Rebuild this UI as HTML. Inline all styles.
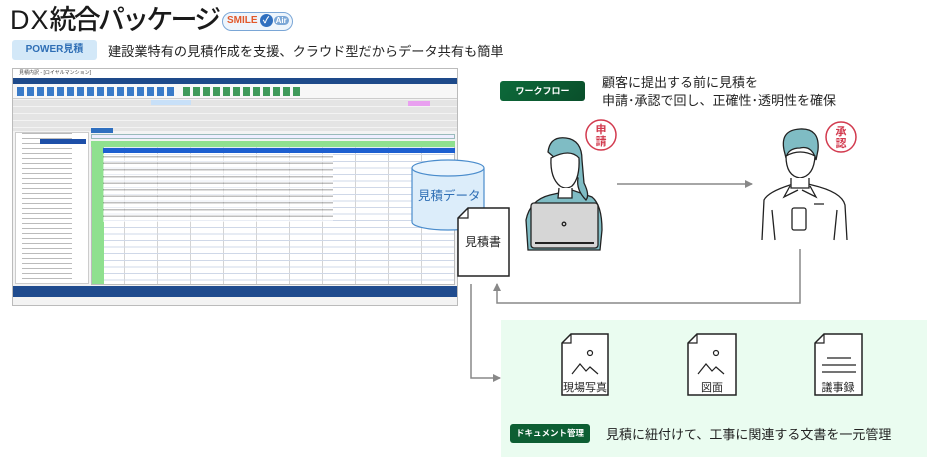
<!DOCTYPE html>
<html><head><meta charset="utf-8">
<style>
*{margin:0;padding:0;box-sizing:border-box}
body{width:940px;height:467px;background:#fff;position:relative;overflow:hidden;font-family:"Liberation Sans","Noto Sans CJK JP",sans-serif;color:#222}
.a{position:absolute;white-space:nowrap}
</style></head><body>
<div class="a" style="left:10px;top:3px;font-size:27px;font-weight:500;line-height:34px;color:#1a1a1a"><span style="letter-spacing:1px">DX</span><span style="letter-spacing:-2.8px">統合パッケージ</span></div>
<div class="a" style="left:222px;top:12px;width:71px;height:19px;border:1.5px solid #7aa6d6;border-radius:10px;background:#eef5fc;font-size:10px;font-weight:bold;line-height:16px;padding-left:4px;color:#e2582a">SMILE<span style="display:inline-block;width:13px;height:13px;border-radius:7px;background:#2f6fbf;color:#fff;font-size:9px;text-align:center;line-height:13px;margin-left:2px">✓</span><span style="color:#fff;background:#7aa6d6;border-radius:5px;font-size:8px;padding:0 2px;margin-left:1px">Air</span></div>
<div class="a" style="left:12px;top:40px;width:85px;height:20px;background:#d3e8f8;border-radius:3px;font-size:10px;font-weight:bold;color:#2e6eb5;text-align:center;line-height:20px">POWER見積</div>
<div class="a" style="left:108px;top:43px;font-size:13.2px;line-height:18px;color:#222">建設業特有の見積作成を支援、クラウド型だからデータ共有も簡単</div>

<div class="a" style="left:12px;top:68px;width:446px;height:238px;border:1px solid #bbb;background:#f3f3f3">
 <div class="a" style="left:0;top:0;width:444px;height:9px;background:#fff;font-size:5px;color:#444;padding-left:6px">見積内訳 - [ロイヤルマンション]</div>
 <div class="a" style="left:0;top:9px;width:444px;height:6px;background:#1e4a8a"></div>
 <div class="a" style="left:0;top:15px;width:444px;height:15px;background:#f7f7f7;border-bottom:1px solid #ccc">
  <div class="a" style="left:4px;top:3px;width:160px;height:9px;background:repeating-linear-gradient(90deg,#3a7bc8 0 7px,transparent 7px 10px)"></div>
  <div class="a" style="left:170px;top:3px;width:120px;height:9px;background:repeating-linear-gradient(90deg,#3f9a5a 0 7px,transparent 7px 10px)"></div>
 </div>
 <div class="a" style="left:0;top:31px;width:444px;height:31px;background:repeating-linear-gradient(180deg,#e4e4e4 0 6px,#f3f3f3 6px 7px)"></div>
 <div class="a" style="left:138px;top:31px;width:40px;height:5px;background:#c8e0f8"></div>
 <div class="a" style="left:395px;top:32px;width:22px;height:5px;background:#e9a0f0"></div>
 <div class="a" style="left:2px;top:63px;width:74px;height:152px;background:#fff;border:1px solid #ccc;background-image:repeating-linear-gradient(180deg,transparent 0 3px,#bbb 3px 4px,transparent 4px 5px);background-size:50px 5px;background-repeat:repeat-y;background-position:6px 2px"></div>
 <div class="a" style="left:27px;top:70px;width:46px;height:5px;background:#1d4fa8"></div>
 <div class="a" style="left:78px;top:59px;width:22px;height:5px;background:#2f6fbf"></div>
 <div class="a" style="left:78px;top:65px;width:364px;height:5px;border:1px solid #9bb;background:#eef"></div>
 <div class="a" style="left:78px;top:72px;width:364px;height:144px;background:#fff;border:1px solid #bbb;background-image:linear-gradient(90deg,#8fe08f 0 12px,transparent 12px),repeating-linear-gradient(180deg,transparent 0 5.6px,#cfd8e8 5.6px 6.6px),repeating-linear-gradient(90deg,transparent 0 32px,#d4d4d4 32px 33px)"></div>
 <div class="a" style="left:78px;top:72px;width:364px;height:6px;background:#8fe08f"></div>
 <div class="a" style="left:90px;top:79px;width:352px;height:5px;background:#1d5fd0"></div>
 <div class="a" style="left:90px;top:85px;width:230px;height:68px;background:repeating-linear-gradient(180deg,#fff 0 2px,#8a8a8a 2px 3.5px,#fff 3.5px 6.6px);opacity:.55"></div>
 <div class="a" style="left:0;top:217px;width:444px;height:11px;background:#1f4b8e"></div>
</div>

<svg class="a" style="left:0;top:0" width="940" height="467">
 <defs><marker id="ar" markerWidth="8" markerHeight="8" refX="7" refY="4" orient="auto" markerUnits="userSpaceOnUse"><path d="M0,0 L8,4 L0,8z" fill="#888"/></marker></defs>
 <path d="M412,168 L412,222 A36,8 0 0 0 484,222 L484,168" fill="#dcedfa" stroke="#4a8ccc" stroke-width="1.2"/>
 <ellipse cx="448" cy="168" rx="36" ry="8" fill="#e9f4fd" stroke="#4a8ccc" stroke-width="1.2"/>
 <text x="418" y="200" font-size="12.5" fill="#2f6fb5" font-family="Liberation Sans,Noto Sans CJK JP,sans-serif">見積データ</text>
 <path d="M468,208 L509,208 L509,276 L458,276 L458,218 Z" fill="#fff" stroke="#222" stroke-width="1.5"/>
 <path d="M458,218 L468,218 L468,208" fill="none" stroke="#222" stroke-width="1.2"/>
 <text x="465" y="246" font-size="12" fill="#222" font-family="Liberation Sans,Noto Sans CJK JP,sans-serif">見積書</text>
 <line x1="617" y1="184" x2="752" y2="184" stroke="#888" stroke-width="1.5" marker-end="url(#ar)"/>
 <polyline points="800,249 800,303 497,303 497,284" fill="none" stroke="#888" stroke-width="1.5" marker-end="url(#ar)"/>
 <polyline points="471,284 471,378 500,378" fill="none" stroke="#888" stroke-width="1.5" marker-end="url(#ar)"/>
 <rect x="501" y="320" width="426" height="137" fill="#eafcf0"/>
 <g stroke="#222" stroke-width="1.5" fill="#fff">
  <path d="M571,334 L608,334 L608,395 L562,395 L562,343 Z"/>
  <path d="M697,334 L736,334 L736,395 L688,395 L688,343 Z"/>
  <path d="M824,334 L862,334 L862,395 L815,395 L815,343 Z"/>
 </g>
 <g stroke="#222" stroke-width="1.2" fill="none">
  <path d="M562,343 L571,343 L571,334 M688,343 L697,343 L697,334 M815,343 L824,343 L824,334"/>
  <circle cx="590" cy="353" r="2.5"/><path d="M572,374 L580,364 L586,371 L590,367 L598,374"/>
  <circle cx="716" cy="353" r="2.5"/><path d="M698,374 L706,364 L712,371 L716,367 L724,374"/>
  <path d="M827,358 H851 M822,365 H856 M822,372 H856"/>
 </g>
 <g font-size="11" fill="#222" font-family="Liberation Sans,Noto Sans CJK JP,sans-serif" text-anchor="middle">
  <text x="585" y="391">現場写真</text><text x="712" y="391">図面</text><text x="838" y="391">議事録</text>
 </g>
 <g stroke="#222" stroke-width="1.3">
  <path d="M528,250 L526,220 Q530,200 550,195 L572,190 L592,197 Q602,205 602,230 L600,250 Z" fill="#7fbcc4"/>
  <path d="M548,152 Q550,136 566,138 Q582,140 582,160 L584,183 Q590,195 586,200 Q576,190 578,178 Z" fill="#7fbcc4"/>
  <path d="M551,158 Q550,178 560,186 Q566,190 572,186 Q580,178 579,158 Q570,148 551,158 Z" fill="#fff"/>
  <path d="M559,188 L558,198 L572,198 L572,188" fill="#fff"/>
  <rect x="531" y="203" width="67" height="45" rx="3" fill="#d6d6d6"/>
  <line x1="535" y1="243" x2="594" y2="243" stroke-width="2"/>
  <circle cx="564" cy="224" r="1.8" fill="none"/>
 </g>
 <g stroke="#222" stroke-width="1.3" fill="#fff">
  <path d="M762,240 L764,200 Q768,192 790,185 L800,182 L812,185 Q842,192 845,205 L847,240"/>
  <path d="M784,150 Q780,130 800,129 Q820,128 818,150 L816,160 Q812,145 800,148 Q788,148 786,158 Z" fill="#7fbcc4"/>
  <path d="M786,156 Q786,176 800,178 Q814,176 815,156 Q800,148 786,156 Z"/>
  <path d="M791,178 L791,188 L809,188 L809,178"/>
  <path d="M790,186 L784,197 L798,190 M810,186 L816,197 L802,190" fill="none"/>
  <rect x="792" y="208" width="14" height="22" rx="2"/>
  <path d="M814,204 H824 M772,210 L775,240 M837,210 L834,240" fill="none"/>
 </g>
 <g font-family="Liberation Sans,Noto Sans CJK JP,sans-serif" font-size="11" font-weight="bold" fill="#d23a4e" text-anchor="middle">
  <circle cx="601" cy="135" r="15" fill="#fff" stroke="#d23a4e" stroke-width="1.5"/>
  <text x="601" y="133">申</text><text x="601" y="145">請</text>
  <circle cx="841" cy="137" r="15" fill="#fff" stroke="#d23a4e" stroke-width="1.5"/>
  <text x="841" y="135">承</text><text x="841" y="147">認</text>
 </g>
</svg>

<div class="a" style="left:500px;top:81px;width:85px;height:20px;background:linear-gradient(135deg,#0d6a3a,#0a4f2b);border-radius:3px;color:#fff;font-size:9px;font-weight:bold;text-align:center;line-height:20px">ワークフロー</div>
<div class="a" style="left:602px;top:74px;font-size:13px;line-height:18px;color:#222">顧客に提出する前に見積を<br>申請･承認で回し、正確性･透明性を確保</div>
<div class="a" style="left:510px;top:424px;width:80px;height:19px;background:#0d5e33;border-radius:3px;color:#fff;font-size:8.5px;font-weight:bold;text-align:center;line-height:19px">ドキュメント管理</div>
<div class="a" style="left:606px;top:426px;font-size:13px;line-height:18px;color:#222">見積に紐付けて、工事に関連する文書を一元管理</div>
</body></html>
